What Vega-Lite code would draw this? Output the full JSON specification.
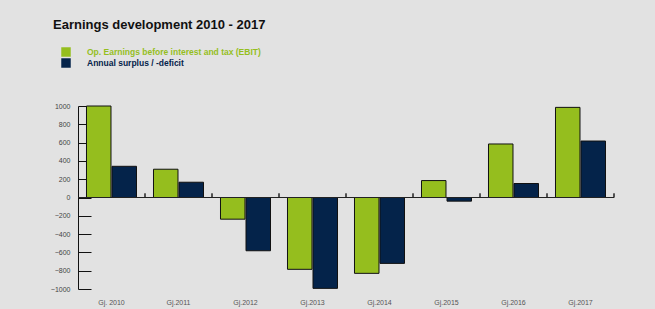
{
  "$schema": "https://vega.github.io/schema/vega-lite/v6.json",
  "autosize": "none",
  "width": 536,
  "height": 183,
  "padding": {"left": 78, "top": 106, "right": 41, "bottom": 20},
  "background": "#e2e2e2",
  "config": {
    "font": "Liberation Sans",
    "view": {"stroke": null},
    "axisX": {"title": null, "domain": false, "ticks": false, "grid": false, "labelAngle": 0, "labelFontSize": 7, "labelColor": "#555555", "labelPadding": 9}
  },
  "title": {"text": "Earnings development 2010 - 2017", "anchor": "start", "frame": "group", "fontSize": 13, "fontWeight": "bold", "color": "#111111", "dx": -25, "offset": 15},
  "data": {"values": [
    {"year": "Gj. 2010", "series": "Op. Earnings before interest and tax (EBIT)", "value": 1000},
    {"year": "Gj. 2010", "series": "Annual surplus / -deficit", "value": 341},
    {"year": "Gj.2011", "series": "Op. Earnings before interest and tax (EBIT)", "value": 309},
    {"year": "Gj.2011", "series": "Annual surplus / -deficit", "value": 167},
    {"year": "Gj.2012", "series": "Op. Earnings before interest and tax (EBIT)", "value": -237},
    {"year": "Gj.2012", "series": "Annual surplus / -deficit", "value": -582},
    {"year": "Gj.2013", "series": "Op. Earnings before interest and tax (EBIT)", "value": -785},
    {"year": "Gj.2013", "series": "Annual surplus / -deficit", "value": -993},
    {"year": "Gj.2014", "series": "Op. Earnings before interest and tax (EBIT)", "value": -829},
    {"year": "Gj.2014", "series": "Annual surplus / -deficit", "value": -720},
    {"year": "Gj.2015", "series": "Op. Earnings before interest and tax (EBIT)", "value": 185},
    {"year": "Gj.2015", "series": "Annual surplus / -deficit", "value": -40},
    {"year": "Gj.2016", "series": "Op. Earnings before interest and tax (EBIT)", "value": 585},
    {"year": "Gj.2016", "series": "Annual surplus / -deficit", "value": 153},
    {"year": "Gj.2017", "series": "Op. Earnings before interest and tax (EBIT)", "value": 985},
    {"year": "Gj.2017", "series": "Annual surplus / -deficit", "value": 617}
  ]},
  "layer": [
    {
      "mark": {"type": "bar", "stroke": "#111111", "strokeWidth": 1},
      "encoding": {
        "x": {"field": "year", "type": "nominal", "sort": null,
              "scale": {"paddingInner": 0, "paddingOuter": 0}},
        "xOffset": {"field": "series", "type": "nominal",
                    "sort": ["Op. Earnings before interest and tax (EBIT)", "Annual surplus / -deficit"],
                    "scale": {"paddingInner": 0.04, "paddingOuter": 0.333}},
        "y": {"field": "value", "type": "quantitative",
              "scale": {"domain": [-1000, 1000], "nice": false},
              "axis": {"title": null, "values": [-1000, -800, -600, -400, -200, 0, 200, 400, 600, 800, 1000], "format": "d", "labelOverlap": false, "grid": false, "domain": true, "domainColor": "#111111", "domainWidth": 1, "tickColor": "#111111", "tickSize": -13, "labelFontSize": 7, "labelColor": "#444444", "labelPadding": 21}},
        "color": {"field": "series", "type": "nominal",
                  "scale": {"domain": ["Op. Earnings before interest and tax (EBIT)", "Annual surplus / -deficit"], "range": ["#95be1e", "#04234a"]},
                  "legend": {"title": null, "orient": "none", "legendX": -17, "legendY": -59, "symbolType": "square", "symbolSize": 90, "symbolStrokeWidth": 0, "symbolOpacity": 1, "labelFontSize": 8.5, "labelFontWeight": "bold", "labelOffset": 16, "labelLimit": 400, "rowPadding": 1,
                             "labelColor": {"expr": "datum.label === 'Annual surplus / -deficit' ? '#04234a' : '#95be1e'"}}}
      }
    },
    {
      "mark": {"type": "rule", "color": "#222222", "strokeWidth": 1},
      "encoding": {"y": {"datum": 0, "axis": {"title": null, "values": [-1000, -800, -600, -400, -200, 0, 200, 400, 600, 800, 1000], "format": "d", "labelOverlap": false, "grid": false, "domain": true, "domainColor": "#111111", "domainWidth": 1, "tickColor": "#111111", "tickSize": -13, "labelFontSize": 7, "labelColor": "#444444", "labelPadding": 21}}}
    },
    {
      "mark": {"type": "rule", "color": "#222222", "strokeWidth": 1},
      "encoding": {
        "x": {"field": "year", "type": "nominal", "sort": null, "bandPosition": 1},
        "y": {"datum": 0, "axis": {"title": null, "values": [-1000, -800, -600, -400, -200, 0, 200, 400, 600, 800, 1000], "format": "d", "labelOverlap": false, "grid": false, "domain": true, "domainColor": "#111111", "domainWidth": 1, "tickColor": "#111111", "tickSize": -13, "labelFontSize": 7, "labelColor": "#444444", "labelPadding": 21}},
        "y2": {"datum": 45}
      }
    }
  ]
}
